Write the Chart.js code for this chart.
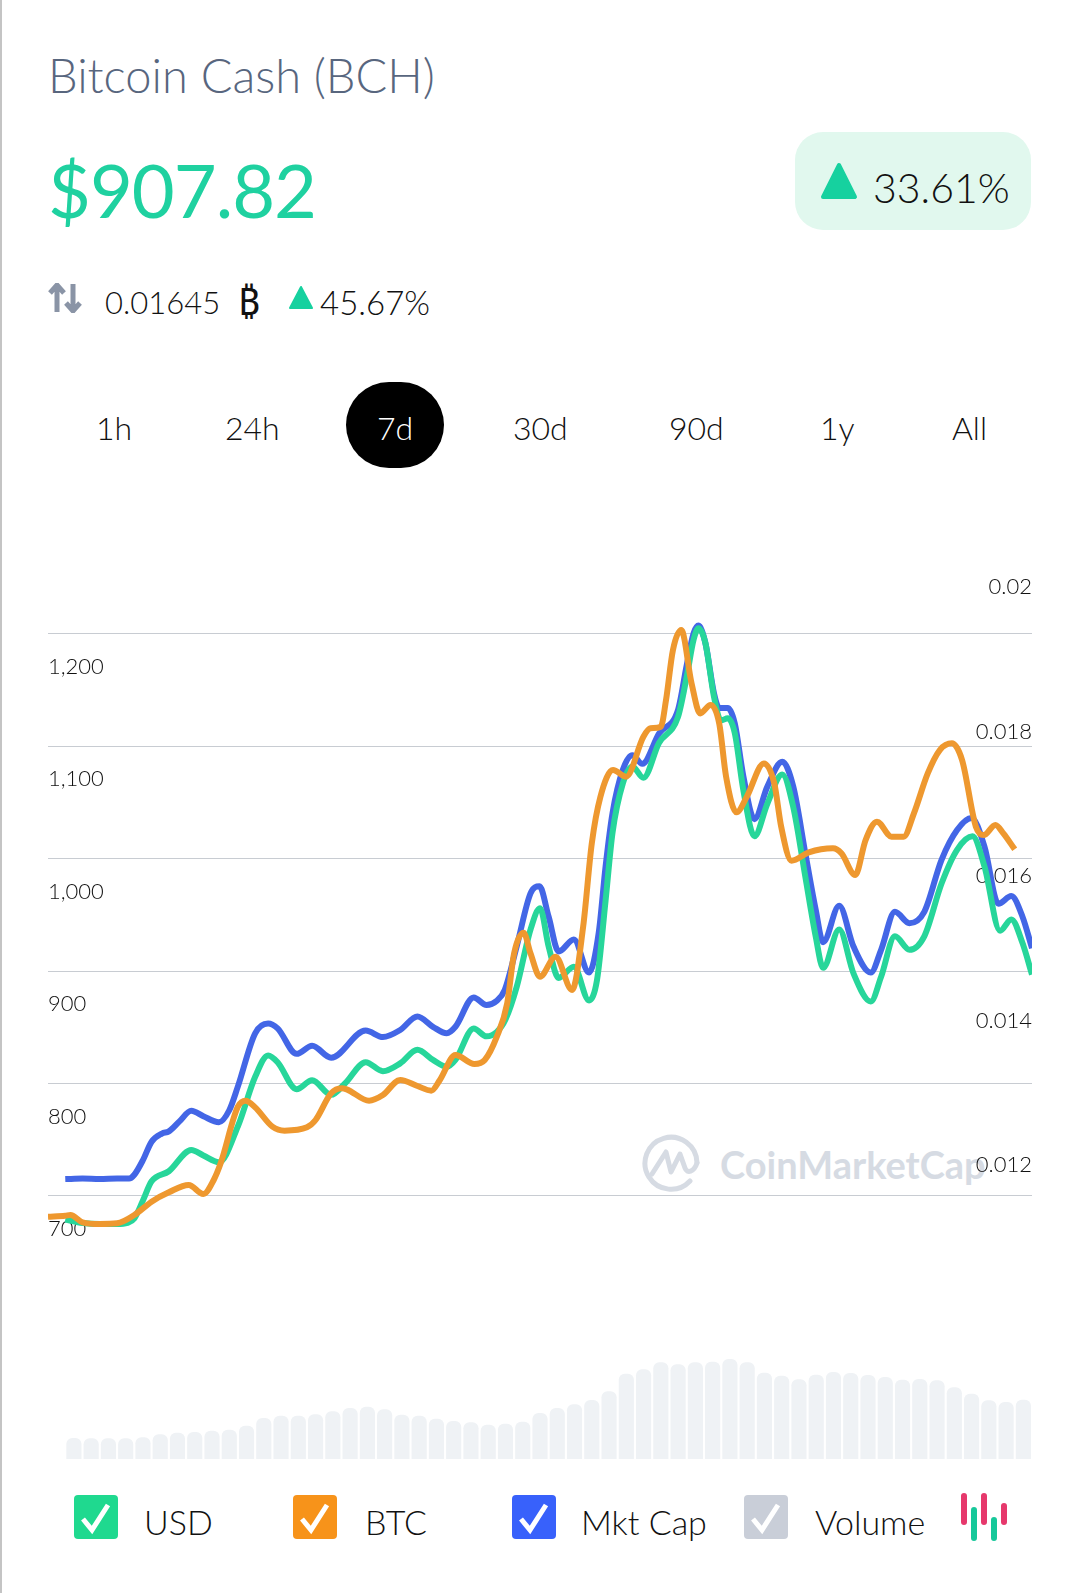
<!DOCTYPE html>
<html>
<head>
<meta charset="utf-8">
<title>Bitcoin Cash (BCH)</title>
<script src="https://cdn.jsdelivr.net/npm/chart.js@4"></script>
<style>
  html, body { margin: 0; padding: 0; background: #fff; }
  body { position: relative; width: 1080px; height: 1593px; overflow: hidden; font-family: Lato, sans-serif; font-weight: 300; color: #111; }
  .edge { position: absolute; left: 0; top: 0; width: 2px; height: 1593px; background: #c4c4c4; }
  .txt { position: absolute; white-space: nowrap; line-height: 1; transform: translateY(-50%); }
  .abs { position: absolute; }
  #chart-wrap { position: absolute; left: 0; top: 540px; width: 1080px; height: 950px; }
  #title { left: 48px; top: 75px; font-size: 47px; color: #58667e; }
  #price { left: 48px; top: 190px; font-size: 74px; letter-spacing: -1px; color: #1fd1a0; font-weight: 400; }
  #badge { left: 795px; top: 132px; width: 236px; height: 98px; border-radius: 28px; background: #e1f8ee; }
  #pct { left: 873px; top: 187px; font-size: 41px; }
  #btc { left: 105px; top: 302px; font-size: 31px; }
  #btc-sign { left: 238px; top: 300px; font-size: 38px; font-family: "Noto Sans", "DejaVu Sans", sans-serif; font-weight: 400; }
  #btc-pct { left: 320px; top: 302px; font-size: 33px; }
  #pill { left: 346px; top: 382px; width: 98px; height: 86px; border-radius: 49px; background: #000; }
  .tab { top: 428px; font-size: 32px; }
  .leg { top: 1522px; font-size: 34px; }
  .box { top: 1495px; width: 44px; height: 44px; border-radius: 4px; }
  #wm { left: 720px; top: 1164px; font-size: 38px; font-weight: 700; color: #d6dbe3; }
</style>
</head>
<body>
<div class="edge"></div>
<div class="txt" id="title">Bitcoin Cash (BCH)</div>
<div class="txt" id="price">$907.82</div>
<div class="abs" id="badge"></div>
<svg class="abs" style="left:820px;top:162px" width="38" height="38"><polygon points="19,3 35,35 3,35" fill="#16d19f" stroke="#16d19f" stroke-width="4" stroke-linejoin="round"/></svg>
<div class="txt" id="pct">33.61%</div>

<svg class="abs" style="left:48px;top:283px" width="34" height="30"><path d="M9 29V3M2 10l7-8 7 8M25 1v26M18 20l7 8 7-8" fill="none" stroke="#8a94a6" stroke-width="5"/></svg>
<div class="txt" id="btc">0.01645</div>
<div class="txt" id="btc-sign">₿</div>
<svg class="abs" style="left:288px;top:285px" width="26" height="25"><polygon points="13,2 24,23 2,23" fill="#16d19f" stroke="#16d19f" stroke-width="2" stroke-linejoin="round"/></svg>
<div class="txt" id="btc-pct">45.67%</div>

<div class="abs" id="pill"></div>
<div class="txt tab" style="left:96px">1h</div>
<div class="txt tab" style="left:225px">24h</div>
<div class="txt tab" style="left:377px;color:#fff">7d</div>
<div class="txt tab" style="left:513px">30d</div>
<div class="txt tab" style="left:669px">90d</div>
<div class="txt tab" style="left:820px">1y</div>
<div class="txt tab" style="left:952px">All</div>

<svg class="abs" style="left:642px;top:1132px" width="70" height="64" viewBox="0 0 70 64"><path d="M48 49A26 26 0 1 1 55 30.7" fill="none" stroke="#d6dbe3" stroke-width="5" stroke-linecap="round"/><path d="M10 42L24 20 29 40 38 22 43 36C45 42 52 40 55 31" fill="none" stroke="#d6dbe3" stroke-width="5" stroke-linejoin="round" stroke-linecap="round"/></svg>
<div class="txt" id="wm">CoinMarketCap</div>

<div id="chart-wrap"><canvas id="price-chart"></canvas></div>

<div class="abs box" style="left:74px;background:#1fd98f"></div>
<div class="txt leg" style="left:144px">USD</div>
<div class="abs box" style="left:293px;background:#f7931a"></div>
<div class="txt leg" style="left:365px">BTC</div>
<div class="abs box" style="left:512px;background:#3861fb"></div>
<div class="txt leg" style="left:581px">Mkt Cap</div>
<div class="abs box" style="left:744px;background:#c9ced8"></div>
<div class="txt leg" style="left:815px">Volume</div>
<svg class="abs" style="left:74px;top:1495px" width="44" height="44"><path d="M9 24l9 11L34 10" fill="none" stroke="#fff" stroke-width="5"/></svg>
<svg class="abs" style="left:293px;top:1495px" width="44" height="44"><path d="M9 24l9 11L34 10" fill="none" stroke="#fff" stroke-width="5"/></svg>
<svg class="abs" style="left:512px;top:1495px" width="44" height="44"><path d="M9 24l9 11L34 10" fill="none" stroke="#fff" stroke-width="5"/></svg>
<svg class="abs" style="left:744px;top:1495px" width="44" height="44"><path d="M9 24l9 11L34 10" fill="none" stroke="#fff" stroke-width="5"/></svg>
<svg class="abs" style="left:960px;top:1492px" width="50" height="50">
  <g stroke-width="6" stroke-linecap="round">
    <path d="M4 4V30M24 4V30M44 14V30" stroke="#e6386c"/>
    <path d="M14 18V46M34 28V46" stroke="#16c89a"/>
  </g>
</svg>

<script>
// x position of each reading is in 3h slots, 0 to 57
const usdSlots = [1, 2, 3, 4, 4.6, 5, 5.5, 6, 7, 8.3, 9, 9.9, 11, 12, 12.75, 13.3, 14.4, 15.3, 16.4, 17.2, 18.4, 19.4, 20.4, 21.4, 22.3, 23.1, 23.6, 24.66, 25.4, 26, 26.5, 27.15, 27.95, 28.5,
  29, 29.58, 30.46, 31.34, 31.8, 32.3, 32.7, 33.3, 33.85, 34.49, 35.39, 36.49, 37, 37.4, 37.68, 38.08, 38.58, 38.98, 39.38, 39.78, 40.28, 40.92, 41.67, 42.53, 43.17, 43.87, 44.47, 44.9, 45.83, 46.66, 47.66, 48.26, 49.06, 49.9, 50.76, 51.76, 52.66, 53.55, 54.25, 55.15, 55.8, 56.45, 57];
const usdValues = [679, 676, 675, 675, 676, 680, 696, 713, 722, 741, 736, 730, 762, 806, 825, 819, 795, 803, 790, 800, 819, 811, 818, 830, 821, 815, 821, 849, 842, 846, 857, 886, 937, 956,
  922, 894, 904, 874, 892, 963, 1023, 1067, 1082, 1072, 1103, 1126, 1162, 1195, 1205, 1192, 1144, 1123, 1125, 1112, 1061, 1020, 1049, 1075, 1046, 984, 931, 903, 937, 898, 873, 895, 931, 919, 931, 978, 1008, 1020, 993, 936, 946, 925, 897];

const btcSlots = [0, 1, 1.3, 2, 3, 4, 5, 6, 7, 8.15, 9, 9.6, 10, 11, 11.45, 12, 13, 13.7, 15, 15.5, 16.4, 17, 17.3, 18.6, 19.4, 20.4, 21.4, 22.2, 22.7, 23.6, 24.7, 25.3, 26, 26.6, 27, 27.55, 27.95, 28.5,
  29.4, 30.36, 31, 31.5, 32, 32.73, 33.49, 34.49, 34.9, 35.5, 35.8, 36.2, 36.68, 37.28, 37.78, 38.38, 38.88, 39.28, 39.88, 40.48, 41.47, 42.07, 42.47, 43.07, 44.07, 45.47, 45.96, 46.76, 47.36, 48.02, 48.86, 49.56, 50.16, 50.96, 51.66, 52.36, 52.95, 53.75, 54.2, 54.88, 55.34, 56];
const btcValues = [0.011285, 0.011299, 0.011308, 0.011207, 0.011184, 0.011193, 0.011308, 0.011493, 0.011622, 0.011724, 0.011599, 0.011793, 0.012023, 0.012808, 0.012891, 0.012798, 0.012531, 0.012476, 0.012522, 0.012623, 0.012992, 0.013062, 0.013048, 0.012891, 0.012969, 0.013177, 0.013094, 0.013029, 0.013177, 0.013523, 0.013398, 0.013454, 0.013777, 0.014238, 0.014930, 0.015216, 0.014930, 0.014607,
  0.014883, 0.014422, 0.015299, 0.016452, 0.017098, 0.017467, 0.017375, 0.017928, 0.018044, 0.018067, 0.018436, 0.019128, 0.019405, 0.018667, 0.018251, 0.018367, 0.018113, 0.017375, 0.016881, 0.017098, 0.017559, 0.017283, 0.016683, 0.016212, 0.016327, 0.016383, 0.016314, 0.016014, 0.016498, 0.016752, 0.016544, 0.016544, 0.016867, 0.017421, 0.017744, 0.017836, 0.017605, 0.016683, 0.016567, 0.016706, 0.016590, 0.016369];

// market cap in $B
const capSlots = [1, 2, 3, 4, 4.7, 5, 5.5, 6, 6.6, 7, 7.6, 8.3, 9, 9.9, 10.5, 11, 12, 12.75, 13.3, 14.4, 15.3, 16.4, 18.4, 19.4, 20.4, 21.4, 22.3, 23.1, 23.6, 24.66, 25.4, 26, 26.46, 27.15, 27.95, 28.47,
  29, 29.58, 30.46, 31.34, 31.9, 32.3, 32.7, 33.3, 33.85, 34.43, 35.4, 36.5, 37, 37.4, 37.68, 38.08, 38.58, 38.88, 39.38, 39.78, 40.28, 40.92, 41.67, 42.53, 43.17, 43.87, 44.47, 44.9, 45.83, 46.66, 47.66, 48.26, 49.06, 49.9, 50.76, 51.76, 52.66, 53.5, 54.25, 55.05, 55.8, 56.45, 57];
const capValues = [12.68, 12.69, 12.68, 12.69, 12.69, 12.76, 13.03, 13.37, 13.52, 13.56, 13.74, 13.94, 13.84, 13.73, 13.95, 14.39, 15.37, 15.55, 15.46, 14.99, 15.14, 14.92, 15.42, 15.30, 15.43, 15.68, 15.49, 15.37, 15.49, 16.03, 15.89, 15.97, 16.17, 16.97, 17.95, 18.08,
  17.52, 16.88, 17.10, 16.49, 17.22, 18.45, 19.43, 20.23, 20.50, 20.34, 20.90, 21.34, 22.16, 22.75, 22.89, 22.57, 21.64, 21.37, 21.37, 21.09, 20.11, 19.32, 19.92, 20.38, 19.92, 18.69, 17.65, 17.05, 17.72, 16.97, 16.49, 16.91, 17.61, 17.40, 17.61, 18.57, 19.12, 19.34, 18.81, 17.76, 17.90, 17.52, 16.94];

// volume in $B, one bar per slot starting at slot 1
const volumeValues = [0.62, 0.61, 0.61, 0.61, 0.64, 0.73, 0.78, 0.80, 0.84, 0.87, 0.99, 1.22, 1.29, 1.29, 1.33, 1.42, 1.52, 1.56, 1.48, 1.32, 1.29, 1.20, 1.13, 1.09, 1.02, 1.05, 1.11, 1.37,
  1.52, 1.63, 1.76, 2.02, 2.55, 2.68, 2.89, 2.83, 2.89, 2.91, 2.99, 2.89, 2.58, 2.49, 2.38, 2.52, 2.60, 2.57, 2.51, 2.45, 2.37, 2.39, 2.35, 2.14, 1.95, 1.75, 1.70, 1.77];
const volumeSlots = volumeValues.map((v, i) => i + 1.5);

const usdTicks = [700, 800, 900, 1000, 1100, 1200];
const btcTicks = [0.012, 0.014, 0.016, 0.018, 0.02];

const TICK_FONT = { family: 'Lato', size: 22, weight: '300' };

const toPoints = (slots, values) => slots.map((x, i) => ({ x, y: values[i] }));

const lineSet = (label, slots, values, color, axis, order) => ({
  type: 'line',
  label,
  data: toPoints(slots, values),
  yAxisID: axis,
  borderColor: color,
  backgroundColor: color,
  borderWidth: 6,
  pointRadius: 0,
  cubicInterpolationMode: 'monotone',
  order
});

new Chart(document.getElementById('price-chart').getContext('2d'), {
  data: {
    datasets: [
      lineSet('BTC', btcSlots, btcValues, '#ee982f', 'yBtc', 1),
      lineSet('USD', usdSlots, usdValues, '#27d69a', 'yUsd', 2),
      lineSet('Mkt Cap', capSlots, capValues, '#4366e6', 'yCap', 3),
      {
        type: 'bar',
        label: 'Volume',
        data: toPoints(volumeSlots, volumeValues),
        yAxisID: 'yVol',
        backgroundColor: '#eff2f5',
        barThickness: 14.5,
        borderRadius: { topLeft: 6, topRight: 6 },
        borderSkipped: 'bottom',
        order: 4
      }
    ]
  },
  options: {
    responsive: true,
    maintainAspectRatio: false,
    animation: false,
    layout: { padding: { left: 48, right: 48, top: 20, bottom: 31 } },
    plugins: { legend: { display: false }, tooltip: { enabled: false } },
    scales: {
      x: { display: false, type: 'linear', min: 0, max: 57, offset: false },
      yUsd: {
        position: 'left',
        min: 466,
        max: 1265.8,
        afterBuildTicks: axis => { axis.ticks = usdTicks.map(value => ({ value })); },
        border: { display: false },
        grid: { color: '#c8ccd2', lineWidth: 1, drawTicks: false },
        ticks: {
          mirror: true,
          padding: 0,
          labelOffset: 33,
          color: '#111',
          font: TICK_FONT,
          callback: value => value.toLocaleString('en-US')
        }
      },
      yBtc: {
        position: 'right',
        min: 0.007931,
        max: 0.020374,
        afterBuildTicks: axis => { axis.ticks = btcTicks.map(value => ({ value })); },
        border: { display: false },
        grid: { display: false, drawTicks: false },
        ticks: {
          mirror: true,
          padding: 0,
          color: '#111',
          font: TICK_FONT,
          callback: value => String(value)
        }
      },
      yCap: { display: false, min: 7.517, max: 24.1 },
      yVol: { display: false, min: 0, max: 26.97 }
    }
  }
});
</script>
</body>
</html>
